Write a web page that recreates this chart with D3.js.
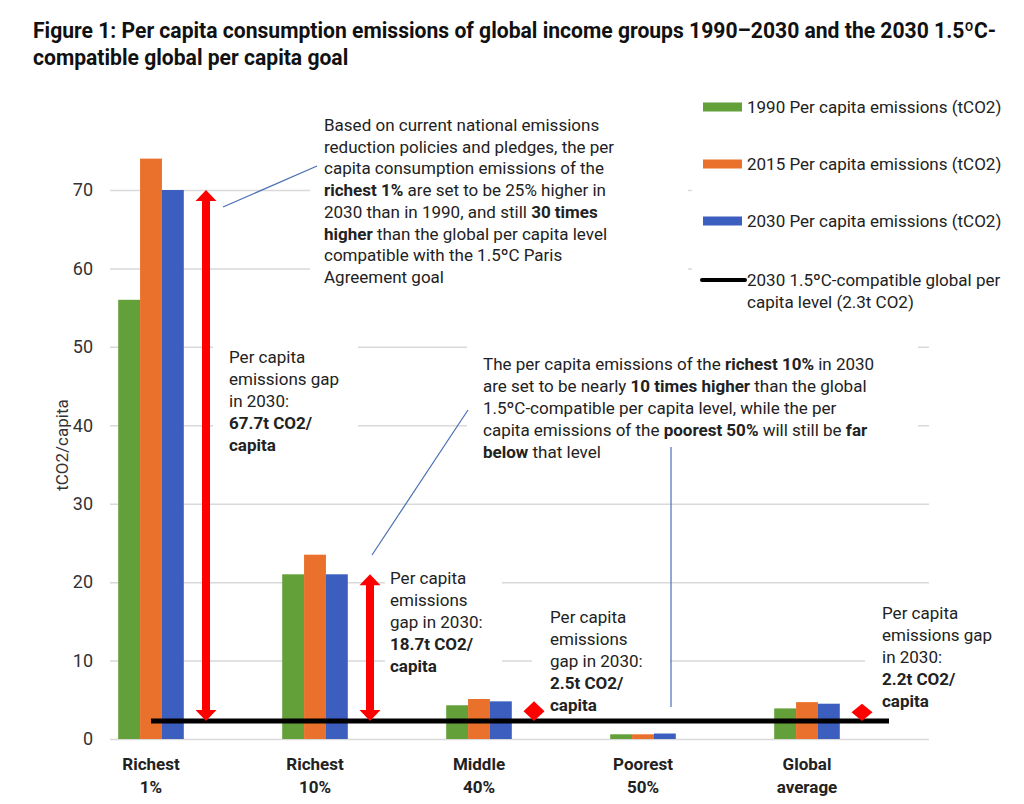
<!DOCTYPE html>
<html>
<head>
<meta charset="utf-8">
<script src="https://cdn.jsdelivr.net/npm/d3@7"></script>
<style>
  body { margin: 0; background: #fff; }
  svg { display: block; font-family: Roboto, "Noto Sans", sans-serif; }
</style>
</head>
<body>
<div id="chart"></div>
<script>
// data
var categories = [["Richest", "1%"], ["Richest", "10%"], ["Middle", "40%"], ["Poorest", "50%"], ["Global", "average"]];
var seriesNames = ["1990 Per capita emissions (tCO2)", "2015 Per capita emissions (tCO2)", "2030 Per capita emissions (tCO2)"];
var v1990 = [56, 21, 4.3, 0.6, 3.9];
var v2015 = [74, 23.5, 5.1, 0.6, 4.7];
var v2030 = [70, 21, 4.8, 0.7, 4.5];
var target = 2.3;
var targetName = ["2030 1.5ºC-compatible global per", "capita level (2.3t CO2)"];
var gaps = ["67.7", "18.7", "2.5", null, "2.2"];
var yTicks = [0, 10, 20, 30, 40, 50, 60, 70];
var colors = ["#63a03a", "#e9712b", "#3c5fbf"];

var width = 1024, height = 804;
var svg = d3.select('#chart').append('svg')
  .attr('width', width)
  .attr('height', height);

// title, squeezed horizontally to look like the condensed original face
var title = [
  "Figure 1: Per capita consumption emissions of global income groups 1990–2030 and the 2030 1.5ºC-",
  "compatible global per capita goal"
];
var t1 = svg.append('text').attr('font-size', 22).attr('font-weight', 700).attr('fill', '#111')
  .text(title[0]);
var squeeze = 964 / t1.node().getComputedTextLength();
t1.attr('transform', 'translate(33,38) scale(' + squeeze + ',1)');
svg.append('text').attr('font-size', 22).attr('font-weight', 700).attr('fill', '#111')
  .attr('transform', 'translate(33,65) scale(' + squeeze + ',1)')
  .text(title[1]);

var y = d3.scaleLinear().domain([0, 70]).range([739, 190]);
var x = d3.scaleBand().domain(d3.range(categories.length))
  .range([69, 889]).paddingInner(0.6).paddingOuter(0.3);
var xs = d3.scaleBand().domain(d3.range(3)).range([0, x.bandwidth()]);
var cx = function(i){ return x(i) + x.bandwidth() / 2; };

// gridlines + tick labels
var yAxis = svg.append('g')
  .attr('transform', 'translate(110,0)')
  .call(d3.axisLeft(y).tickValues(yTicks).tickSizeInner(-819).tickSizeOuter(0).tickPadding(17));
yAxis.select('.domain').remove();
yAxis.selectAll('.tick line').attr('stroke', '#d9d9d9').attr('stroke-width', 1.5);
yAxis.selectAll('.tick text').attr('font-size', 18).attr('fill', '#333')
  .attr('font-family', 'Roboto, sans-serif');

svg.append('text')
  .attr('transform', 'translate(68,445) rotate(-90)')
  .attr('text-anchor', 'middle')
  .attr('font-size', 17).attr('fill', '#333')
  .text('tCO2/capita');

// white text boxes that hide the gridlines
var boxes = [[310, 106, 378, 188], [467, 340, 451, 126], [213, 338, 145, 120],
             [385, 563, 117, 118], [532, 600, 138, 114], [865, 598, 140, 118], [692, 84, 332, 236]];
svg.selectAll('rect.box')
  .data(boxes)
  .enter()
  .append('rect')
  .attr('class', 'box')
  .attr('x', function(d){ return d[0]; })
  .attr('y', function(d){ return d[1]; })
  .attr('width', function(d){ return d[2]; })
  .attr('height', function(d){ return d[3]; })
  .attr('fill', '#fff');

// bars
var series = [v1990, v2015, v2030];
series.forEach(function(vals, s){
  svg.selectAll('rect.s' + s)
    .data(vals)
    .enter()
    .append('rect')
    .attr('class', 's' + s)
    .attr('x', function(d, i){ return x(i) + xs(s); })
    .attr('y', function(d){ return y(d); })
    .attr('width', xs.bandwidth())
    .attr('height', function(d){ return y(0) - y(d); })
    .attr('fill', colors[s]);
});

// category labels
categories.forEach(function(c, i){
  var t = svg.append('text')
    .attr('text-anchor', 'middle')
    .attr('font-size', 17).attr('font-weight', 700).attr('fill', '#222');
  t.append('tspan').attr('x', cx(i)).attr('y', 770).text(c[0]);
  t.append('tspan').attr('x', cx(i)).attr('y', 793).text(c[1]);
});

// 1.5C line
svg.append('line')
  .attr('x1', cx(0))
  .attr('x2', cx(categories.length - 1) + x.step() / 2)
  .attr('y1', y(target)).attr('y2', y(target))
  .attr('stroke', '#000').attr('stroke-width', 5);

// red double arrows
var arrowPath = function(xc, yTop, yBot){
  var hw = 10.5, sw = 4, hh = 11;
  if (yBot - yTop < 2 * hh) hh = (yBot - yTop) / 2;
  return 'M' + xc + ',' + yTop +
    'L' + (xc + hw) + ',' + (yTop + hh) +
    'L' + (xc + sw) + ',' + (yTop + hh) +
    'L' + (xc + sw) + ',' + (yBot - hh) +
    'L' + (xc + hw) + ',' + (yBot - hh) +
    'L' + xc + ',' + yBot +
    'L' + (xc - hw) + ',' + (yBot - hh) +
    'L' + (xc - sw) + ',' + (yBot - hh) +
    'L' + (xc - sw) + ',' + (yTop + hh) +
    'L' + (xc - hw) + ',' + (yTop + hh) + 'Z';
};
svg.selectAll('path.gap')
  .data(gaps.map(function(g, i){ return {g: g, i: i}; }).filter(function(d){ return d.g; }))
  .enter()
  .append('path')
  .attr('class', 'gap')
  .attr('d', function(d){ return arrowPath(cx(d.i) + 55, y(v2030[d.i]), y(target)); })
  .attr('fill', '#ff0000');

// leader lines
var leaders = [[223, 207, 317, 166], [372, 555, 468, 410], [671, 707, 671, 447]];
svg.selectAll('line.leader')
  .data(leaders)
  .enter()
  .append('line')
  .attr('x1', function(d){ return d[0]; })
  .attr('y1', function(d){ return d[1]; })
  .attr('x2', function(d){ return d[2]; })
  .attr('y2', function(d){ return d[3]; })
  .attr('stroke', '#4a6fb5').attr('stroke-width', 1.2);

// rich text helper: lines of [text, bold] pieces
var richText = function(x0, y0, lh, lines){
  var t = svg.append('text').attr('font-size', 17).attr('fill', '#222');
  lines.forEach(function(line, li){
    line.forEach(function(seg, si){
      var ts = t.append('tspan').text(seg[0]).attr('font-weight', seg[1] ? 700 : 400);
      if (si === 0) ts.attr('x', x0).attr('y', y0 + li * lh);
    });
  });
};

richText(324, 131, 21.7, [
  [["Based on current national emissions"]],
  [["reduction policies and pledges, the per"]],
  [["capita consumption emissions of the"]],
  [["richest 1%", 1], [" are set to be 25% higher in"]],
  [["2030 than in 1990, and still "], ["30 times", 1]],
  [["higher", 1], [" than the global per capita level"]],
  [["compatible with the 1.5ºC Paris"]],
  [["Agreement goal"]]
]);

richText(483, 370, 22, [
  [["The per capita emissions of the "], ["richest 10%", 1], [" in 2030"]],
  [["are set to be nearly "], ["10 times higher", 1], [" than the global"]],
  [["1.5ºC-compatible per capita level, while the per"]],
  [["capita emissions of the "], ["poorest 50%", 1], [" will still be "], ["far", 1]],
  [["below", 1], [" that level"]]
]);

// gap labels beside the arrows
var gapLines = {
  0: ["Per capita", "emissions gap", "in 2030:"],
  1: ["Per capita", "emissions", "gap in 2030:"],
  2: ["Per capita", "emissions", "gap in 2030:"],
  4: ["Per capita", "emissions gap", "in 2030:"]
};
var gapTop = {0: 363, 1: 584, 2: 623, 4: 619};
var gapDx = {0: 78, 1: 75, 2: 71, 4: 75};
gaps.forEach(function(g, i){
  if (!g) return;
  var lines = gapLines[i].map(function(s){ return [[s]]; });
  lines.push([[g + "t CO2/", 1]]);
  lines.push([["capita", 1]]);
  richText(cx(i) + gapDx[i], gapTop[i], 22, lines);
});

// legend
var legend = svg.append('g');
seriesNames.forEach(function(name, s){
  var ly = 107 + s * 57;
  legend.append('rect').attr('x', 703).attr('y', ly - 4.5)
    .attr('width', 39).attr('height', 9).attr('fill', colors[s]);
  legend.append('text').attr('x', 747).attr('y', ly + 6)
    .attr('font-size', 17).attr('fill', '#222').text(name);
});
legend.append('line').attr('x1', 702).attr('x2', 745).attr('y1', 280).attr('y2', 280)
  .attr('stroke', '#000').attr('stroke-width', 4).attr('stroke-linecap', 'round');
legend.append('text').attr('x', 747).attr('y', 286)
  .attr('font-size', 17).attr('fill', '#222').text(targetName[0]);
legend.append('text').attr('x', 747).attr('y', 308)
  .attr('font-size', 17).attr('fill', '#222').text(targetName[1]);
</script>
</body>
</html>
